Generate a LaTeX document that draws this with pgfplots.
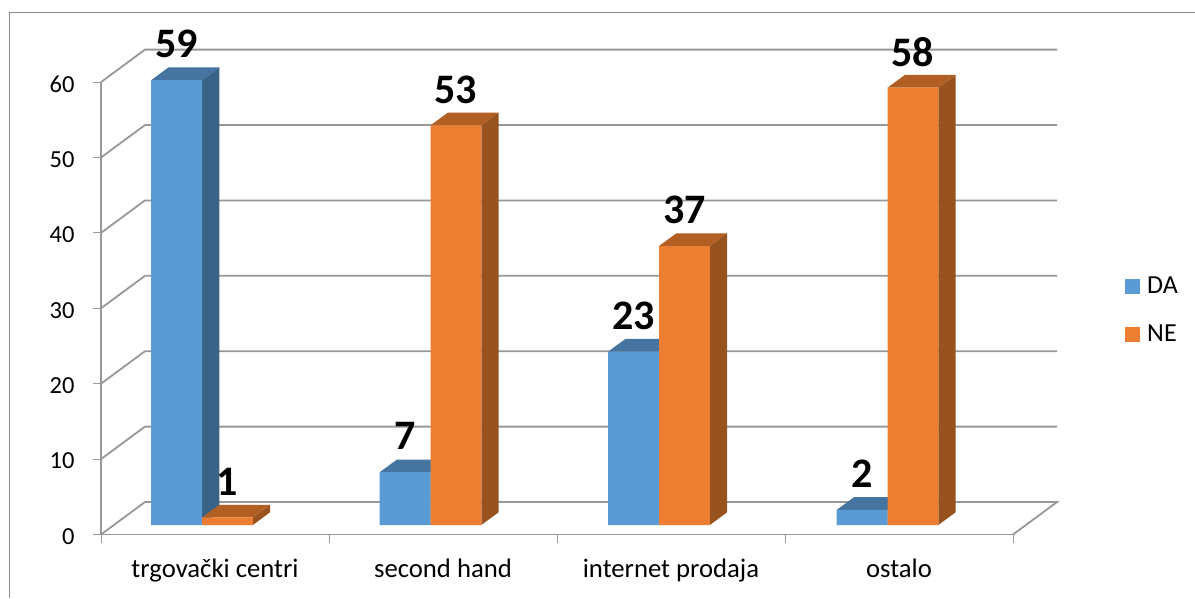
\documentclass[border=0pt]{standalone}
\usepackage{fontspec}
\setmainfont{Carlito}
\usepackage{pgfplots}
\pgfplotsset{compat=1.18}
\definecolor{gridc}{HTML}{989898}
\definecolor{framec}{HTML}{8C8C8C}
\definecolor{blueF}{HTML}{5B9BD5}
\definecolor{blueS}{HTML}{3A6487}
\definecolor{blueT}{HTML}{4674A0}
\definecolor{orF}{HTML}{ED7D31}
\definecolor{orS}{HTML}{97521E}
\definecolor{orT}{HTML}{B25F23}
% depth of a bar, in the units of the bars' axis
\newcommand{\bdx}{0.0757}
\newcommand{\bdy}{1.684}
\newcommand{\bw}{0.2223}
% #1 left edge, #2 value, #3 side colour, #4 top colour
\newcommand{\Faces}[4]{%
  \pgfmathsetmacro{\xa}{#1}%
  \pgfmathsetmacro{\xb}{#1+\bw}%
  \pgfmathsetmacro{\xc}{#1+\bw+\bdx}%
  \pgfmathsetmacro{\xd}{#1+\bdx}%
  \pgfmathsetmacro{\ya}{#2+\bdy}%
  \addplot[fill=#3,draw=none,forget plot] coordinates {(\xb,0) (\xc,\bdy) (\xc,\ya) (\xb,#2)};
  \addplot[fill=#4,draw=none,forget plot] coordinates {(\xa,#2) (\xb,#2) (\xc,\ya) (\xd,\ya)};
}
\begin{document}
\begin{tikzpicture}[x=1pt,y=1pt]
\path[use as bounding box,fill=white] (0,0) rectangle (1195,598);
\draw[framec,line width=1pt] (9,0) -- (9,585.5) -- (1195,585.5);
\begin{axis}[
  at={(101pt,63.5pt)},anchor=south west,
  scale only axis,width=912pt,height=452.4pt,
  xmin=0,xmax=4,ymin=0,ymax=60,clip=false,
  axis x line=bottom,axis y line=left,
  axis line style={-,gridc,line width=1.8pt},
  xtick={0.5,1.5,2.5,3.5},
  xticklabels={trgovački centri,second hand,internet prodaja,ostalo},
  minor xtick={0,1,2,3,4},
  ytick={0,10,...,60},
  major tick length=8pt,minor tick length=8pt,
  tick align=outside,
  major x tick style={draw=none},
  minor x tick style={gridc,line width=1pt},
  major y tick style={gridc,line width=1pt},
  /pgf/number format/assume math mode=true,
  tick label style={black},
  xticklabel style={yshift=-13pt,font=\fontsize{26.7}{28}\selectfont},
  yticklabel style={xshift=-15pt,yshift=-2pt,font=\fontsize{24.5}{26}\selectfont},
  legend style={draw=none,fill=none,inner sep=0pt,at={(1.1228,0.496)},anchor=west,
    font=\fontsize{26}{28}\selectfont,row sep=26pt},
  legend cell align=left,
]
\addplot[gridc,line width=1.8pt,forget plot] coordinates {(0,0) (0.193,4.31) (4.193,4.31) (4,0)};
\addplot[gridc,line width=1.8pt,forget plot] coordinates {(0,10) (0.193,14.31) (4.193,14.31)};
\addplot[gridc,line width=1.8pt,forget plot] coordinates {(0,20) (0.193,24.31) (4.193,24.31)};
\addplot[gridc,line width=1.8pt,forget plot] coordinates {(0,30) (0.193,34.31) (4.193,34.31)};
\addplot[gridc,line width=1.8pt,forget plot] coordinates {(0,40) (0.193,44.31) (4.193,44.31)};
\addplot[gridc,line width=1.8pt,forget plot] coordinates {(0,50) (0.193,54.31) (4.193,54.31)};
\addplot[gridc,line width=1.8pt,forget plot] coordinates {(0,60) (0.193,64.31) (4.193,64.31)};
\addlegendimage{legend image code/.code={\path[draw=none] (0pt,0pt) -- (20pt,0pt);\fill[blueF,draw=none] (0pt,-7.5pt) rectangle (15pt,7.5pt);}}
\addlegendentry{DA}
\addlegendimage{legend image code/.code={\path[draw=none] (0pt,0pt) -- (20pt,0pt);\fill[orF,draw=none] (0pt,-7.5pt) rectangle (15pt,7.5pt);}}
\addlegendentry{NE}
\end{axis}
\begin{axis}[
  at={(87.75pt,73pt)},anchor=south west,
  scale only axis,width=914pt,height=452.4pt,
  xmin=-0.5,xmax=3.5,ymin=0,ymax=60,clip=false,hide axis,
  bar width=50.8pt,
  /pgf/number format/assume math mode=true,
  every node near coord/.append style={anchor=center,yshift=36pt,black,
    font=\fontsize{42}{42}\selectfont\bfseries},
]
\Faces{-0.2223}{59}{blueS}{blueT}
\Faces{0.7777}{7}{blueS}{blueT}
\Faces{1.7777}{23}{blueS}{blueT}
\Faces{2.7777}{2}{blueS}{blueT}
\addplot[ybar,bar shift=-25.4pt,fill=blueF,draw=none,nodes near coords,
  every node near coord/.append style={xshift=-25.4pt}] coordinates {(0,59) (1,7) (2,23) (3,2)};
\Faces{0}{1}{orS}{orT}
\Faces{1}{53}{orS}{orT}
\Faces{2}{37}{orS}{orT}
\Faces{3}{58}{orS}{orT}
\addplot[ybar,bar shift=25.4pt,fill=orF,draw=none,nodes near coords,
  every node near coord/.append style={xshift=25.4pt}] coordinates {(0,1) (1,53) (2,37) (3,58)};
\end{axis}
\end{tikzpicture}
\end{document}
